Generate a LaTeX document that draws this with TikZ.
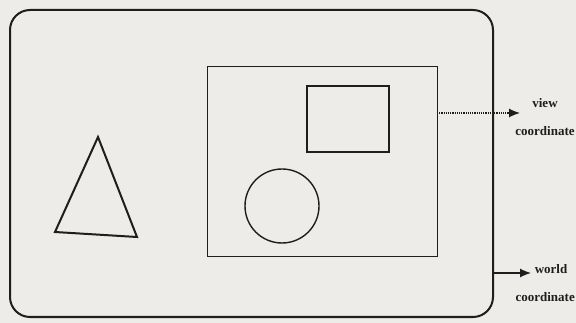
\documentclass[tikz,border=0pt]{standalone}
\usepackage{fontspec}
\setmainfont{Liberation Serif}
\usetikzlibrary{arrows.meta}
\definecolor{paper}{RGB}{238,236,232}
\definecolor{ink}{RGB}{30,30,30}
\tikzset{
  shape line/.style={draw=ink, line width=1.4pt},
  lbl/.style={font=\bfseries\fontsize{13}{14}\selectfont, text=ink, inner sep=0pt},
  arr/.style={draw=ink, line width=1.2pt, -{Latex[length=11pt,width=9pt]}}
}
\begin{document}
\begin{tikzpicture}[x=1pt,y=-1pt]
  \fill[paper] (0,0) rectangle (576,323);
  \useasboundingbox (0,0) rectangle (576,323);
  % outer world frame
  \node[draw=ink, line width=2pt, rounded corners=20pt, minimum width=483pt, minimum height=307pt, inner sep=0pt] (world) at (251.5,163.5) {};
  % view window
  \node[draw=ink, line width=1pt, minimum width=230pt, minimum height=190pt, inner sep=0pt] (view) at (322,162) {};
  % small rectangle
  \node[shape line, minimum width=82pt, minimum height=66pt, inner sep=0pt] (box) at (348,119) {};
  % circle
  \node[shape line, circle, minimum size=74pt, inner sep=0pt] (disc) at (282,206) {};
  % triangle
  \draw[draw=ink, line width=2pt, line join=miter] (55,232) -- (98,137) -- (137,237) -- cycle;
  % labels
  \node[lbl] (viewlbl) at (545,103) {view};
  \node[lbl] (viewlbl2) at (545,131) {coordinate};
  \node[lbl] (worldlbl) at (551,269) {world};
  \node[lbl, anchor=east] (worldlbl2) at (575,297) {coordinate};
  % arrows
  \coordinate (vs) at (437,113);
  \coordinate (ve) at (520,113);
  \draw[arr, densely dotted] (vs) -- (ve);
  \coordinate (ws) at (493,273);
  \coordinate (we) at (531,273);
  \draw[arr] (ws) -- (we);
\end{tikzpicture}
\end{document}
